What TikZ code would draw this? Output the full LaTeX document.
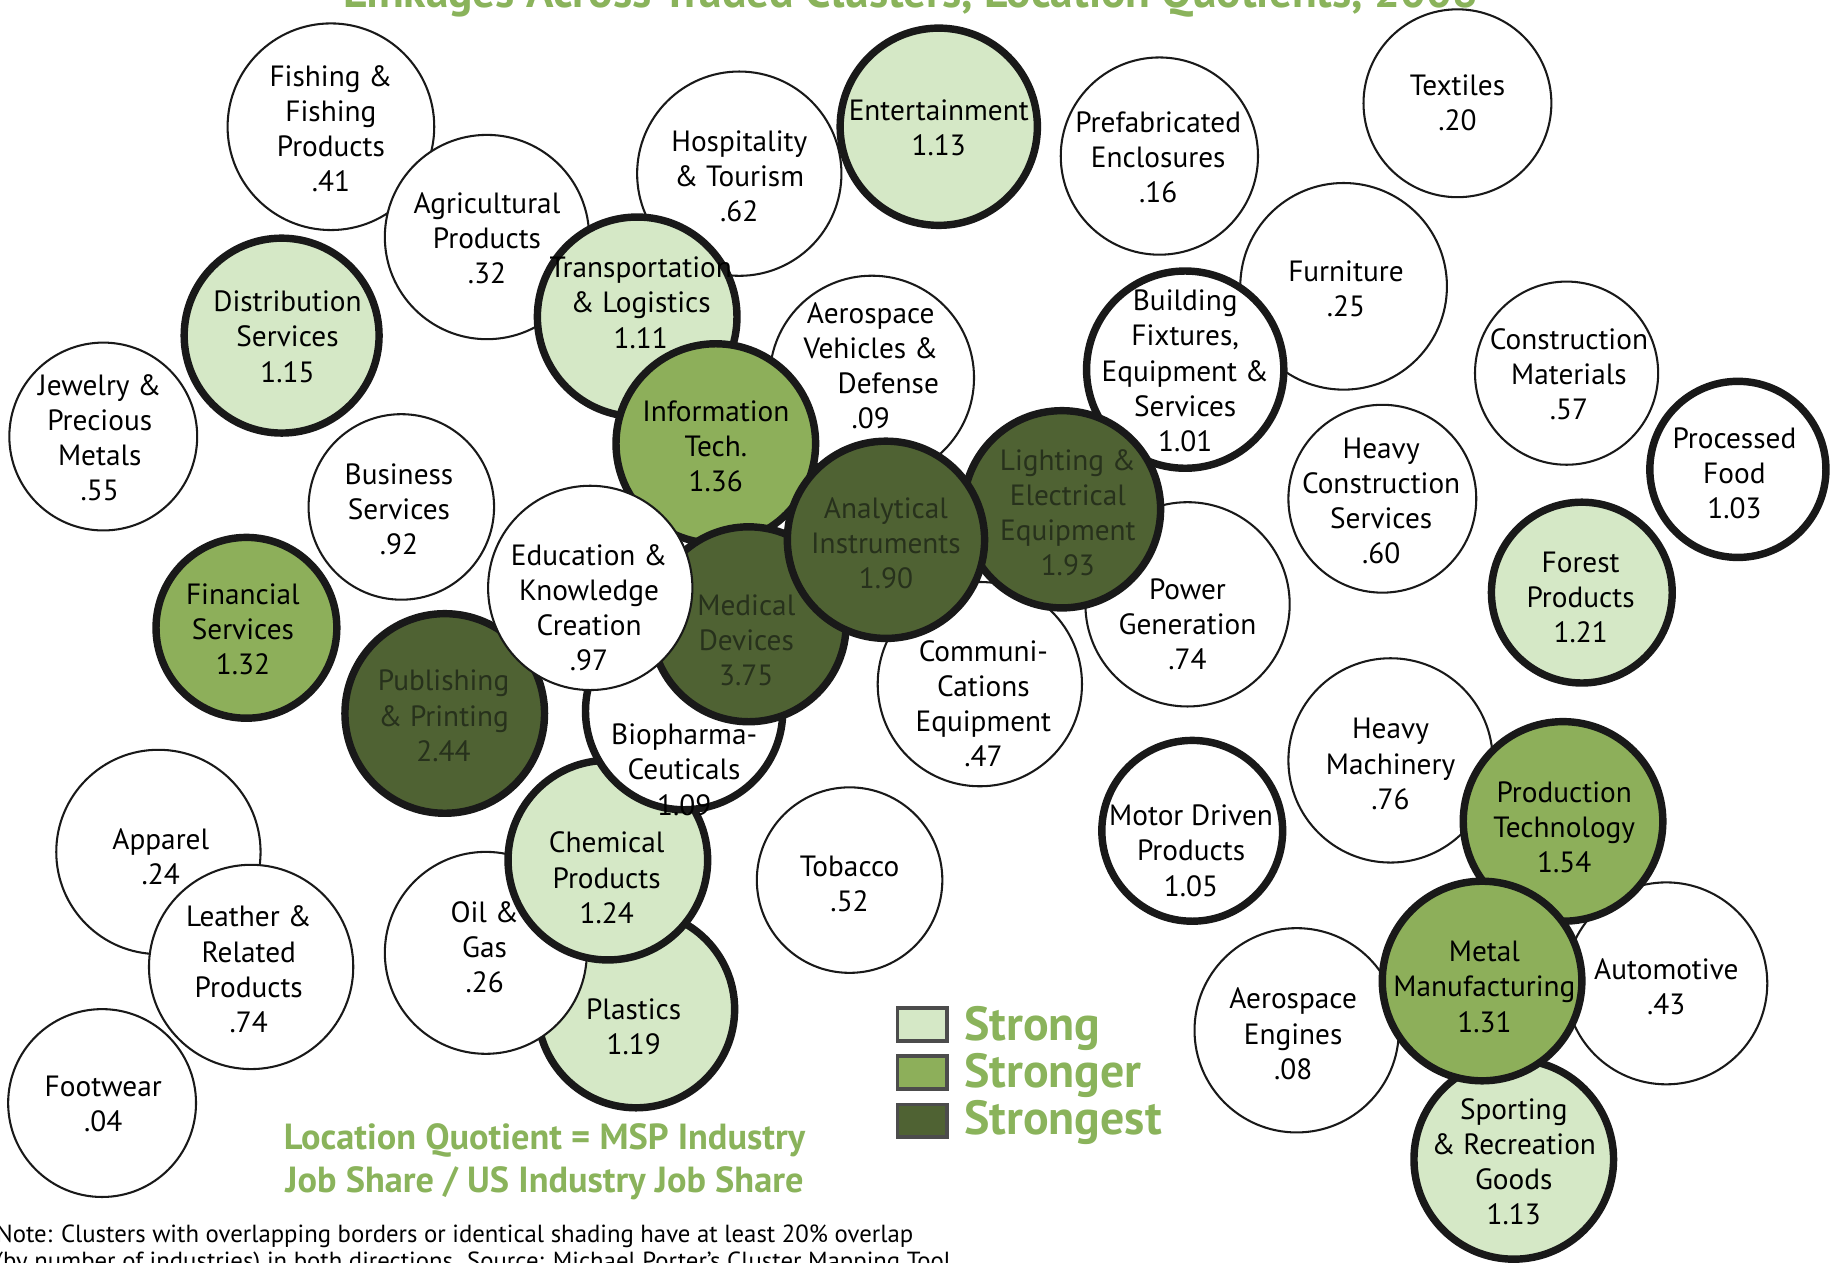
\documentclass[tikz,border=0pt]{standalone}
\usepackage{fontspec}
\setmainfont{PT Sans}
\usetikzlibrary{positioning}
\definecolor{lqlight}{HTML}{D5E8C6}
\definecolor{lqmid}{HTML}{8DAF5A}
\definecolor{lqdark}{HTML}{4F6233}
\definecolor{lqgreen}{HTML}{8AB35B}
\definecolor{lqink}{HTML}{27311C}
\tikzstyle{cluster} = [circle, draw=black!90, fill=white, inner sep=0pt, line width=0.5pt]
\tikzstyle{linked} = [line width=1.8pt]
\tikzstyle{strong} = [fill=lqlight]
\tikzstyle{stronger} = [fill=lqmid]
\tikzstyle{strongest} = [fill=lqdark]
\tikzstyle{lbl} = [align=center, inner sep=0pt, font=\fontsize{7.1}{8.5}\selectfont]
\tikzstyle{darklbl} = [lbl, text=lqink]
\tikzstyle{legbox} = [draw=black!70, line width=0.8pt, minimum width=0.42cm, minimum height=0.28cm, inner sep=0pt]
\tikzstyle{legtext} = [text=lqgreen, inner sep=0pt, font=\fontsize{11.6}{13}\selectfont\bfseries]

\begin{document}
\begin{tikzpicture}[x=0.01cm, y=-0.01cm]
            \useasboundingbox (0,0) rectangle (1568,1076);

            % Title, cut at the top edge
            \node[text=lqgreen, anchor=base, inner sep=0pt, font=\fontsize{11}{13}\selectfont\bfseries] (title) at (776,6) {Linkages Across Traded Clusters, Location Quotients, 2008};

            % Top row of clusters
            \node[cluster, minimum size=1.76cm] (1) at (282,108) {};
            \node[lbl] (t1) at (282,110) {Fishing \&\\Fishing\\Products\\.41};
            \node[cluster, minimum size=1.74cm] (2) at (415,202) {};
            \node[lbl] (t2) at (415,203) {Agricultural\\Products\\.32};
            \node[cluster, minimum size=1.74cm] (3) at (630,148) {};
            \node[lbl] (t3) at (630,150) {Hospitality\\\& Tourism\\.62};
            \node[cluster, linked, strong, minimum size=1.68cm] (4) at (800,108) {};
            \node[lbl] (t4) at (800,109) {Entertainment\\1.13};
            \node[cluster, linked, strong, minimum size=1.70cm] (5) at (543,270) {};
            \node[lbl] (t5) at (546,258) {Transportation\\\& Logistics\\1.11};
            \node[cluster, minimum size=1.68cm] (6) at (988,133) {};
            \node[lbl] (t6) at (987,134) {Prefabricated\\Enclosures\\.16};
            \node[cluster, minimum size=1.60cm] (7) at (1242,88) {};
            \node[lbl] (t7) at (1242,88) {Textiles\\.20};
            \node[cluster, minimum size=1.76cm] (8) at (1145,244) {};
            \node[lbl] (t8) at (1147,246) {Furniture\\.25};
            \node[cluster, linked, minimum size=1.68cm] (9) at (1010,315) {};
            \node[lbl] (t9) at (1010,316) {Building\\Fixtures,\\Equipment \&\\Services\\1.01};

            % Left side
            \node[cluster, linked, strong, minimum size=1.66cm] (10) at (240,286) {};
            \node[lbl] (t10) at (245,287) {Distribution\\Services\\1.15};
            \node[cluster, minimum size=1.60cm] (11) at (88,372) {};
            \node[lbl] (t11) at (85,373) {Jewelry \&\\Precious\\Metals\\.55};
            \node[cluster, minimum size=1.58cm] (12) at (342,432) {};
            \node[lbl] (t12) at (340,434) {Business\\Services\\.92};
            \node[cluster, linked, stronger, minimum size=1.54cm] (13) at (210,535) {};
            \node[lbl] (t13) at (207,536) {Financial\\Services\\1.32};

            % Centre group
            \node[cluster, minimum size=1.74cm] (14) at (743,322) {};
            \node[lbl] (t14) at (742,312) {Aerospace\\Vehicles \&\\\hspace{1.2em}Defense\\.09};
            \node[cluster, linked, stronger, minimum size=1.70cm] (15) at (610,378) {};
            \node[lbl] (t15) at (610,380) {Information\\Tech.\\1.36};
            \node[cluster, linked, strong, minimum size=1.68cm] (16) at (542,860) {};
            \node[lbl] (t16) at (540,875) {Plastics\\1.19};
            \node[cluster, minimum size=1.72cm] (17) at (414,812) {};
            \node[lbl] (t17) at (413,807) {Oil \&\\Gas\\.26};
            \node[cluster, linked, strong, minimum size=1.70cm] (18) at (518,733) {};
            \node[lbl] (t18) at (517,748) {Chemical\\Products\\1.24};
            \node[cluster, linked, minimum size=1.68cm] (19) at (583,606) {};
            \node[lbl] (t19) at (583,656) {Biopharma-\\Ceuticals\\1.09};
            \node[cluster, linked, strongest, minimum size=1.66cm] (20) at (638,532) {};
            \node[darklbl] (t20) at (636,546) {Medical\\Devices\\3.75};
            \node[cluster, linked, strongest, minimum size=1.70cm] (21) at (379,608) {};
            \node[darklbl] (t21) at (378,610) {Publishing\\\& Printing\\2.44};
            \node[cluster, minimum size=1.74cm] (22) at (503,501) {};
            \node[lbl] (t22) at (502,518) {Education \&\\Knowledge\\Creation\\.97};
            \node[cluster, minimum size=1.74cm] (23) at (835,583) {};
            \node[lbl] (t23) at (838,600) {Communi-\\Cations\\Equipment\\.47};
            \node[cluster, minimum size=1.74cm] (24) at (1012,515) {};
            \node[lbl] (t24) at (1012,532) {Power\\Generation\\.74};
            \node[cluster, linked, strongest, minimum size=1.68cm] (25) at (905,434) {};
            \node[darklbl] (t25) at (910,437) {Lighting \&\\Electrical\\Equipment\\1.93};
            \node[cluster, linked, strongest, minimum size=1.68cm] (26) at (755,460) {};
            \node[darklbl] (t26) at (755,463) {Analytical\\Instruments\\1.90};
            \node[cluster, minimum size=1.58cm] (27) at (724,750) {};
            \node[lbl] (t27) at (724,753) {Tobacco\\.52};

            % Right side
            \node[cluster, minimum size=1.60cm] (28) at (1178,425) {};
            \node[lbl] (t28) at (1177,427) {Heavy\\Construction\\Services\\.60};
            \node[cluster, minimum size=1.56cm] (29) at (1335,318) {};
            \node[lbl] (t29) at (1337,319) {Construction\\Materials\\.57};
            \node[cluster, linked, minimum size=1.50cm] (30) at (1481,400) {};
            \node[lbl] (t30) at (1478,403) {Processed\\Food\\1.03};
            \node[cluster, linked, strong, minimum size=1.54cm] (31) at (1348,505) {};
            \node[lbl] (t31) at (1347,509) {Forest\\Products\\1.21};
            \node[cluster, linked, minimum size=1.54cm] (32) at (1016,708) {};
            \node[lbl] (t32) at (1015,725) {Motor Driven\\Products\\1.05};
            \node[cluster, minimum size=1.74cm] (33) at (1185,648) {};
            \node[lbl] (t33) at (1185,651) {Heavy\\Machinery\\.76};
            \node[cluster, minimum size=1.72cm] (34) at (1420,838) {};
            \node[lbl] (t34) at (1420,841) {Automotive\\.43};
            \node[cluster, linked, stronger, minimum size=1.70cm] (35) at (1332,700) {};
            \node[lbl] (t35) at (1333,705) {Production\\Technology\\1.54};
            \node[cluster, minimum size=1.74cm] (36) at (1105,878) {};
            \node[lbl] (t36) at (1102,881) {Aerospace\\Engines\\.08};
            \node[cluster, linked, strong, minimum size=1.70cm] (37) at (1290,988) {};
            \node[lbl] (t37) at (1290,990) {Sporting\\\& Recreation\\Goods\\1.13};
            \node[cluster, linked, stronger, minimum size=1.70cm] (38) at (1263,836) {};
            \node[lbl] (t38) at (1265,841) {Metal\\Manufacturing\\1.31};

            % Bottom left
            \node[cluster, minimum size=1.74cm] (39) at (135,726) {};
            \node[lbl] (t39) at (137,730) {Apparel\\.24};
            \node[cluster, minimum size=1.74cm] (40) at (214,824) {};
            \node[lbl] (t40) at (212,826) {Leather \&\\Related\\Products\\.74};
            \node[cluster, minimum size=1.60cm] (41) at (87,940) {};
            \node[lbl] (t41) at (88,941) {Footwear\\.04};

            % Legend
            \node[legbox, strong] (k1) at (786,873) {};
            \node[legbox, stronger] (k2) at (786,914) {};
            \node[legbox, strongest] (k3) at (786,955) {};
            \node[legtext, anchor=base west] (s1) at (821,887) {Strong};
            \node[legtext, anchor=base west] (s2) at (821,927) {Stronger};
            \node[legtext, anchor=base west] (s3) at (821,967) {Strongest};

            % Definition and note
            \node[text=lqgreen, align=center, inner sep=0pt, font=\fontsize{8.8}{10.6}\selectfont\bfseries] (lq) at (464,990) {Location Quotient = MSP Industry\\Job Share / US Industry Job Share};
            \node[anchor=north west, align=left, inner sep=0pt, font=\fontsize{6}{6.6}\selectfont] (note) at (-4,1043) {Note: Clusters with overlapping borders or identical shading have at least 20\% overlap\\(by number of industries) in both directions. Source: Michael Porter's Cluster Mapping Tool};
        \end{tikzpicture}
\end{document}
